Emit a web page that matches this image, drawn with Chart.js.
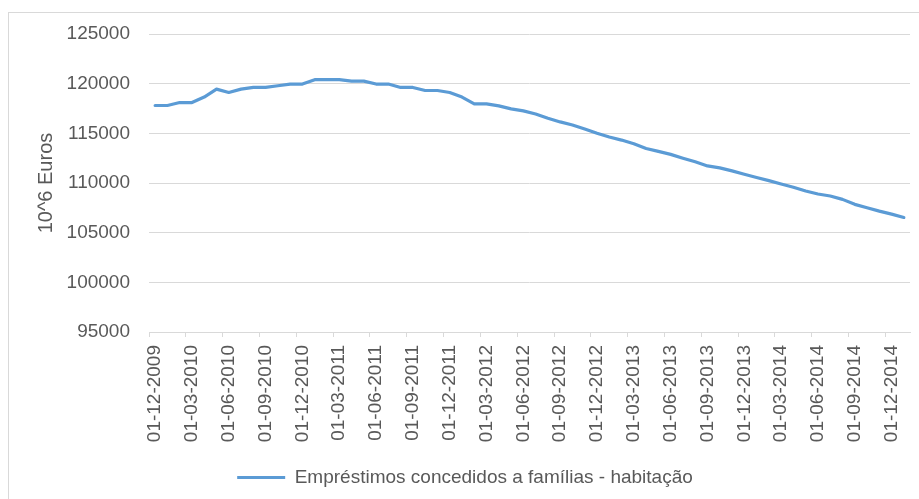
<!DOCTYPE html>
<html lang="pt">
<head>
<meta charset="utf-8">
<title>Empréstimos concedidos a famílias - habitação</title>
<script src="https://cdn.jsdelivr.net/npm/chart.js@4.4.1/dist/chart.umd.min.js"></script>
<style>
  html, body { margin: 0; padding: 0; background: #fff; overflow: hidden; }
  #wrap { position: relative; width: 919px; height: 499px; }
  #frame {
    position: absolute; left: 8px; top: 12px; width: 1000px; height: 600px;
    border: 1px solid #d9d9d9; box-sizing: border-box;
  }
  #box { position: absolute; left: 0; top: 0; width: 919px; height: 499px; }
</style>
</head>
<body>
<div id="wrap">
  <div id="frame"></div>
  <div id="box"><canvas id="loansChart"></canvas></div>
</div>
<script>
// monthly dates, Dec 2009 - Jan 2015
const months = [
  '01-12-2009', '01-01-2010', '01-02-2010', '01-03-2010', '01-04-2010', '01-05-2010',
  '01-06-2010', '01-07-2010', '01-08-2010', '01-09-2010', '01-10-2010', '01-11-2010',
  '01-12-2010', '01-01-2011', '01-02-2011', '01-03-2011', '01-04-2011', '01-05-2011',
  '01-06-2011', '01-07-2011', '01-08-2011', '01-09-2011', '01-10-2011', '01-11-2011',
  '01-12-2011', '01-01-2012', '01-02-2012', '01-03-2012', '01-04-2012', '01-05-2012',
  '01-06-2012', '01-07-2012', '01-08-2012', '01-09-2012', '01-10-2012', '01-11-2012',
  '01-12-2012', '01-01-2013', '01-02-2013', '01-03-2013', '01-04-2013', '01-05-2013',
  '01-06-2013', '01-07-2013', '01-08-2013', '01-09-2013', '01-10-2013', '01-11-2013',
  '01-12-2013', '01-01-2014', '01-02-2014', '01-03-2014', '01-04-2014', '01-05-2014',
  '01-06-2014', '01-07-2014', '01-08-2014', '01-09-2014', '01-10-2014', '01-11-2014',
  '01-12-2014', '01-01-2015'
];

// 10^6 euros
const housingLoans = [
  117800, 117800, 118100, 118100, 118650, 119450,
  119110, 119450, 119620, 119620, 119790, 119960,
  119960, 120400, 120400, 120400, 120260, 120260,
  119960, 119960, 119620, 119620, 119310, 119310,
  119110, 118650, 117970, 117970, 117760, 117460,
  117260, 116950, 116520, 116150, 115840, 115440,
  115000, 114630, 114320, 113950, 113480, 113180,
  112880, 112500, 112130, 111720, 111520, 111220,
  110880, 110550, 110240, 109900, 109570, 109190,
  108890, 108690, 108350, 107850, 107510, 107170,
  106870, 106530
];

const yTicks = [95000, 100000, 105000, 110000, 115000, 120000, 125000];

const seriesName = 'Empréstimos concedidos a famílias - habitação';
const axisTitle = '10^6 Euros';

const textColor = '#595959';
const gridColor = '#d9d9d9';
const lineColor = '#5b9bd5';
const font = { family: '"Liberation Sans", Arial, sans-serif', size: 19 };

Chart.defaults.font = font;
Chart.defaults.color = textColor;

new Chart(document.getElementById('loansChart'), {
  type: 'line',
  data: {
    labels: months,
    datasets: [{
      label: seriesName,
      data: housingLoans,
      borderColor: lineColor,
      backgroundColor: lineColor,
      borderWidth: 3.2,
      borderCapStyle: 'round',
      borderJoinStyle: 'round',
      pointRadius: 0,
      pointStyle: 'line',
      tension: 0
    }]
  },
  options: {
    responsive: true,
    maintainAspectRatio: false,
    animation: false,
    devicePixelRatio: 1,
    layout: { padding: { left: 20, top: 34, right: 9, bottom: 2 } },
    plugins: {
      tooltip: { enabled: false },
      legend: {
        position: 'bottom',
        labels: {
          usePointStyle: true,
          pointStyle: 'line',
          pointStyleWidth: 48,
          padding: 10,
          color: textColor,
          font: font
        }
      }
    },
    scales: {
      x: {
        type: 'category',
        offset: true,
        grid: {
          offset: true,
          drawOnChartArea: false,
          drawTicks: true,
          tickLength: 5,
          color: ctx => (ctx.index !== undefined && ctx.index % 3 === 0) ? gridColor : 'rgba(0,0,0,0)'
        },
        border: { display: true, color: gridColor, width: 1 },
        ticks: {
          autoSkip: false,
          minRotation: 90,
          maxRotation: 90,
          padding: 8,
          color: textColor,
          font: font,
          callback: function (value, index) {
            return index % 3 === 0 ? this.getLabelForValue(value) : '';
          }
        },
        afterFit: scale => {
          scale.height = 126;
          scale.paddingLeft = 0;
          scale.paddingRight = 0;
        }
      },
      y: {
        min: yTicks[0],
        max: yTicks[yTicks.length - 1],
        afterBuildTicks: scale => { scale.ticks = yTicks.map(v => ({ value: v })); },
        grid: { color: gridColor, lineWidth: 1, drawTicks: false },
        border: { display: false },
        ticks: {
          padding: 19,
          color: textColor,
          font: font,
          callback: v => String(v)
        },
        title: {
          display: true,
          text: axisTitle,
          color: textColor,
          font: { family: font.family, size: 20 },
          padding: { top: 14, bottom: 0 }
        },
        afterFit: scale => { scale.width = 129; }
      }
    }
  }
});
</script>
</body>
</html>
